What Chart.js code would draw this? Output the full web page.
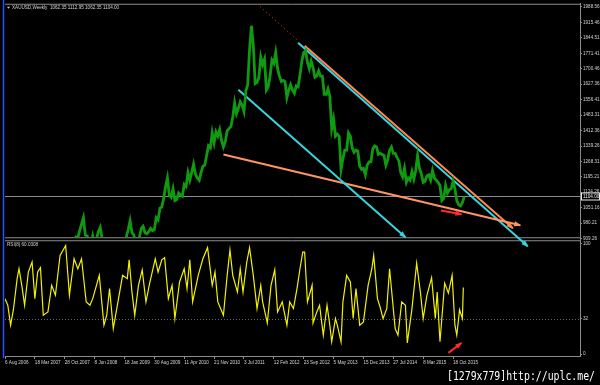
<!DOCTYPE html>
<html>
<head>
<meta charset="utf-8">
<script src="https://cdn.jsdelivr.net/npm/chart.js@4.4.1/dist/chart.umd.min.js"></script>
<style>
    html, body { margin: 0; padding: 0; background: #000; }
    #wrap { width: 600px; height: 385px; }
</style>
</head>
<body>
<div id="wrap"><canvas id="myChart" width="600" height="385"></canvas></div>
<script>
// time axis: weeks counted from 6 Aug 2006, one label every 32 weeks
const timeLabels = ['6 Aug 2006', '18 Mar 2007', '28 Oct 2007', '8 Jun 2008', '18 Jan 2009', '30 Aug 2009',
    '11 Apr 2010', '21 Nov 2010', '3 Jul 2011', '12 Feb 2012', '23 Sep 2012', '5 May 2013',
    '15 Dec 2013', '27 Jul 2014', '8 Mar 2015', '18 Oct 2015'];
const timeTickStep = 32;

const priceTicks = [1988.56, 1915.46, 1844.51, 1771.41, 1700.46, 1627.36, 1556.41, 1483.31,
    1412.36, 1339.26, 1268.31, 1195.21, 1124.26, 1051.16, 980.21, 909.26];
const rsiTicks = [0, 32, 100];
const rsiLevel = 32;
const lastPrice = 1104.00;

const chartTitle = 'XAUUSD,Weekly  1062.35 1112.95 1062.35 1104.00';
const rsiTitle = 'RSI(8) 60.0308';
const watermark = '[1279x779]http://uplc.me/';

// gold closes, one value every 2 weeks starting at week 52
const goldStartWeek = 52;
const goldStep = 2;
const gold2007 = [670, 665, 675, 715, 745, 760, 785, 830, 815, 800, 830];
const gold2008 = [880, 915, 910, 945, 975, 1005, 925, 920, 890, 875, 920, 885, 905, 940, 960, 910, 830, 830, 770, 880, 860, 735, 730, 745, 790, 845];
const gold2009 = [870, 850, 915, 950, 990, 935, 925, 885, 895, 915, 955, 965, 935, 930, 940, 955, 945, 950, 1005, 995, 1050, 1055, 1095, 1150, 1190, 1110];
const gold2010 = [1100, 1140, 1085, 1090, 1120, 1110, 1105, 1160, 1150, 1215, 1180, 1215, 1255, 1210, 1190, 1180, 1215, 1245, 1250, 1295, 1340, 1330, 1400, 1355, 1405, 1385];
const gold2011 = [1415, 1365, 1335, 1360, 1410, 1420, 1430, 1475, 1540, 1490, 1515, 1545, 1530, 1500, 1595, 1625, 1790, 1900, 1810, 1630, 1635, 1660, 1755, 1720, 1745, 1600];
const gold2012 = [1615, 1665, 1740, 1725, 1775, 1700, 1665, 1640, 1645, 1640, 1565, 1600, 1625, 1600, 1585, 1620, 1615, 1670, 1735, 1775, 1785, 1730, 1700, 1735, 1705, 1660];
const gold2013 = [1665, 1690, 1665, 1665, 1580, 1580, 1605, 1570, 1420, 1465, 1385, 1395, 1385, 1230, 1280, 1320, 1320, 1400, 1385, 1330, 1310, 1320, 1315, 1245, 1230, 1235];
const gold2014 = [1205, 1250, 1265, 1265, 1325, 1340, 1335, 1300, 1305, 1300, 1295, 1250, 1275, 1320, 1335, 1305, 1305, 1285, 1270, 1215, 1195, 1235, 1170, 1190, 1180, 1220];
const gold2015 = [1185, 1225, 1295, 1235, 1210, 1170, 1175, 1200, 1205, 1180, 1225, 1190, 1180, 1170, 1155, 1085, 1095, 1155, 1120, 1135, 1140, 1175, 1140, 1085, 1065, 1060, 1075, 1104];

// RSI(8)
const rsiWeek = [0, 3, 6, 9, 13, 15, 18, 21, 25, 29, 32, 35, 38, 41, 46, 50, 54, 59, 65, 69,
    74, 78, 82, 87, 91, 94, 101, 106, 109, 112, 116, 121, 126, 131, 133, 136, 139, 143, 147, 151,
    155, 161, 164, 168, 171, 175, 179, 182, 187, 192, 195, 198, 201, 207, 212, 217, 222, 225, 228, 234,
    238, 241, 244, 249, 252, 255, 259, 262, 266, 270, 274, 276, 281, 285, 289, 292, 297, 302, 305, 309,
    313, 316, 319, 321, 324, 327, 329, 330, 334, 337, 341, 345, 348, 350, 354, 356, 360, 362, 366, 370,
    373, 376, 380, 384, 389, 393, 395, 399, 402, 405, 409, 412, 418, 421, 425, 429, 431, 436, 441, 445,
    448, 452, 457, 461, 463, 466, 471, 475, 479, 482, 484, 487, 490, 491];
const rsiValue = [50, 44, 26, 40, 68, 77, 62, 44, 74, 83, 50, 74, 78, 35, 38, 62, 53, 89, 98, 53,
    86, 77, 86, 47, 44, 50, 71, 26, 35, 59, 23, 47, 71, 68, 85, 56, 35, 62, 76, 47,
    64, 86, 74, 85, 87, 50, 62, 32, 65, 77, 59, 85, 47, 71, 86, 96, 62, 74, 47, 35,
    71, 94, 71, 56, 77, 56, 83, 96, 71, 41, 62, 47, 28, 62, 76, 38, 47, 26, 47, 41,
    60, 77, 92, 92, 47, 56, 62, 28, 38, 44, 17, 44, 26, 11, 32, 26, 11, 47, 71, 65,
    32, 59, 26, 29, 62, 77, 89, 50, 42, 32, 41, 77, 23, 17, 47, 44, 10, 41, 82, 56,
    32, 53, 69, 32, 56, 11, 64, 55, 71, 26, 17, 40, 32, 60];

// hand drawn trend lines: [week, value]
const redDotted = [[270, 2002], [314, 1830]];
const cyanUpper = [[314, 1821], [560, 872]];
const orangeUpper = [[321, 1807], [544, 956]];
const cyanLower = [[250, 1602], [429, 914]];
const orangeLower = [[234, 1300], [552, 970]];
const redPriceArrow = [[467, 1039], [489, 1021]];
const redRsiArrow = [[475, 1], [489, 10]];

const goldClose = [].concat(gold2007, gold2008, gold2009, gold2010, gold2011, gold2012, gold2013, gold2014, gold2015);
const goldPoints = goldClose.map((v, i) => ({x: goldStartWeek + i * goldStep, y: v}));
const rsiPoints = rsiWeek.map((w, i) => ({x: w, y: rsiValue[i]}));
const toPoints = line => line.map(p => ({x: p[0], y: p[1]}));

const textColor = '#d4d4d4';
const frameColor = '#8c8c8c';
const tinyFont = '"Liberation Sans", Arial, sans-serif';

function trend(line, color, axis, extra) {
    return Object.assign({
        data: toPoints(line),
        yAxisID: axis,
        borderColor: color,
        backgroundColor: color,
        borderWidth: 2,
        pointRadius: 0,
        clip: false,
        arrow: true
    }, extra || {});
}

// clip price / rsi series to their own pane
const paneClip = {
    id: 'paneClip',
    beforeDatasetDraw(chart, args) {
        const ds = chart.data.datasets[args.index];
        if (!ds.pane) return;
        const s = chart.scales[ds.yAxisID];
        const a = chart.chartArea;
        chart.ctx.save();
        chart.ctx.beginPath();
        chart.ctx.rect(a.left, s.top + 1, a.right - a.left, s.bottom - s.top - 2);
        chart.ctx.clip();
    },
    afterDatasetDraw(chart, args) {
        if (chart.data.datasets[args.index].pane) chart.ctx.restore();
    }
};

const frame = {
    id: 'frame',
    beforeDatasetsDraw(chart) {
        const ctx = chart.ctx;
        const a = chart.chartArea;
        const y = chart.scales.y, y2 = chart.scales.y2;
        ctx.save();
        ctx.lineWidth = 1;
        ctx.strokeStyle = frameColor;
        ctx.beginPath();
        ctx.moveTo(a.left, a.top + 0.5); ctx.lineTo(a.right, a.top + 0.5);
        ctx.moveTo(a.left, y.bottom - 0.5); ctx.lineTo(a.right, y.bottom - 0.5);
        ctx.moveTo(a.left, y2.top + 2.5); ctx.lineTo(a.right, y2.top + 2.5);
        const py = Math.round(y.getPixelForValue(lastPrice)) + 0.5;
        ctx.moveTo(a.left, py); ctx.lineTo(a.right, py);
        ctx.stroke();
        ctx.setLineDash([1, 2]);
        ctx.strokeStyle = '#666';
        const ly = Math.round(y2.getPixelForValue(rsiLevel)) + 0.5;
        ctx.beginPath();
        ctx.moveTo(a.left, ly); ctx.lineTo(a.right, ly);
        ctx.stroke();
        ctx.setLineDash([]);
        ctx.strokeStyle = '#2f4cff';
        ctx.lineWidth = 1.5;
        ctx.beginPath();
        ctx.moveTo(a.left - 1.5, 0); ctx.lineTo(a.left - 1.5, a.bottom + 2);
        ctx.stroke();
        ctx.restore();
    }
};

const arrows = {
    id: 'arrows',
    afterDatasetsDraw(chart) {
        const ctx = chart.ctx;
        chart.data.datasets.forEach((ds, i) => {
            if (!ds.arrow) return;
            const pts = chart.getDatasetMeta(i).data;
            const p1 = pts[pts.length - 2], p2 = pts[pts.length - 1];
            const ang = Math.atan2(p2.y - p1.y, p2.x - p1.x);
            const len = 6, half = 2.6;
            ctx.save();
            ctx.translate(p2.x, p2.y);
            ctx.rotate(ang);
            ctx.fillStyle = ds.borderColor;
            ctx.beginPath();
            ctx.moveTo(1, 0);
            ctx.lineTo(-len, -half);
            ctx.lineTo(-len, half);
            ctx.closePath();
            ctx.fill();
            ctx.restore();
        });
    }
};

const labels = {
    id: 'labels',
    afterDraw(chart) {
        const ctx = chart.ctx;
        const a = chart.chartArea;
        const y = chart.scales.y, y2 = chart.scales.y2;
        ctx.save();
        ctx.fillStyle = textColor;
        ctx.font = '4.6px ' + tinyFont;
        ctx.textBaseline = 'middle';
        ctx.textAlign = 'left';
        // small down triangle then title
        ctx.beginPath();
        ctx.moveTo(a.left + 2, a.top + 3); ctx.lineTo(a.left + 5, a.top + 3); ctx.lineTo(a.left + 3.5, a.top + 5);
        ctx.closePath(); ctx.fill();
        ctx.fillText(chartTitle, a.left + 7, a.top + 4);
        ctx.fillText(rsiTitle, a.left + 2, y2.top + 6);
        // current price box
        const py = Math.round(y.getPixelForValue(lastPrice)) + 0.5;
        ctx.fillStyle = '#000';
        ctx.fillRect(a.right + 1, py - 3.5, 19, 7);
        ctx.strokeStyle = '#e8e8e8';
        ctx.lineWidth = 1;
        ctx.strokeRect(a.right + 1.5, py - 3.5, 18, 7);
        ctx.fillStyle = '#f0f0f0';
        ctx.fillText(lastPrice.toFixed(2), a.right + 3, py + 0.3);
        // image host watermark
        ctx.font = '13px "DejaVu Sans Mono", monospace';
        ctx.textBaseline = 'alphabetic';
        const w = ctx.measureText(watermark).width;
        ctx.translate(447, 380);
        ctx.scale(148 / w, 1);
        ctx.fillStyle = '#ffffff';
        ctx.fillText(watermark, 0, 0);
        ctx.restore();
    }
};

class GoldChart {
    constructor() {
        this.ctx = document.getElementById('myChart').getContext('2d');
        new Chart(this.ctx, this.getChartObject());
    }

    getChartObject() {
        return {
            type: 'line',
            data: {
                datasets: [
                    {data: goldPoints, yAxisID: 'y', borderColor: '#109a10', borderWidth: 2.8, pointRadius: 0, tension: 0, pane: true},
                    {data: rsiPoints, yAxisID: 'y2', borderColor: '#f2f200', borderWidth: 1.2, pointRadius: 0, tension: 0, pane: true},
                    trend(redDotted, '#a02a20', 'y', {borderWidth: 1, borderDash: [1.5, 2.5], arrow: false}),
                    trend(cyanLower, '#38d4e0', 'y'),
                    trend(orangeLower, '#ff9466', 'y'),
                    trend(orangeUpper, '#ff8a50', 'y'),
                    trend(cyanUpper, '#38d4e0', 'y'),
                    trend(redPriceArrow, '#ff2a2a', 'y'),
                    trend(redRsiArrow, '#ff2a2a', 'y2')
                ]
            },
            options: {
                responsive: false,
                animation: false,
                devicePixelRatio: 1,
                layout: {padding: {left: 5, top: 2, right: 0, bottom: 17}},
                plugins: {legend: {display: false}, tooltip: {enabled: false}},
                scales: {
                    x: {
                        type: 'linear', min: 0, max: 616,
                        afterBuildTicks: s => { s.ticks = timeLabels.map((t, i) => ({value: i * timeTickStep})); },
                        afterFit: s => { s.height = 12; },
                        ticks: {
                            callback: v => timeLabels[Math.round(v / timeTickStep)],
                            color: textColor, font: {size: 4.6, family: tinyFont},
                            align: 'start', maxRotation: 0, autoSkip: false, padding: 1
                        },
                        grid: {drawOnChartArea: false, color: frameColor, tickLength: 3},
                        border: {color: frameColor}
                    },
                    y: {
                        position: 'right', stack: 'panes', stackWeight: 235,
                        min: 909.26, max: 2002.5,
                        afterBuildTicks: s => { s.ticks = priceTicks.map(v => ({value: v})); },
                        afterFit: s => { s.width = 20; },
                        ticks: {
                            callback: v => v.toFixed(2), autoSkip: false,
                            color: textColor, font: {size: 4.6, family: tinyFont}, padding: 1
                        },
                        grid: {drawOnChartArea: false, color: frameColor, tickLength: 2},
                        border: {color: frameColor}
                    },
                    y2: {
                        position: 'right', stack: 'panes', stackWeight: 118,
                        min: -1.8, max: 104.5,
                        afterBuildTicks: s => { s.ticks = rsiTicks.map(v => ({value: v})); },
                        afterFit: s => { s.width = 20; },
                        ticks: {
                            callback: v => String(v), autoSkip: false,
                            color: textColor, font: {size: 4.6, family: tinyFont}, padding: 1
                        },
                        grid: {drawOnChartArea: false, color: frameColor, tickLength: 2},
                        border: {color: frameColor}
                    }
                }
            },
            plugins: [paneClip, frame, arrows, labels]
        };
    }
}

new GoldChart();
</script>
</body>
</html>
